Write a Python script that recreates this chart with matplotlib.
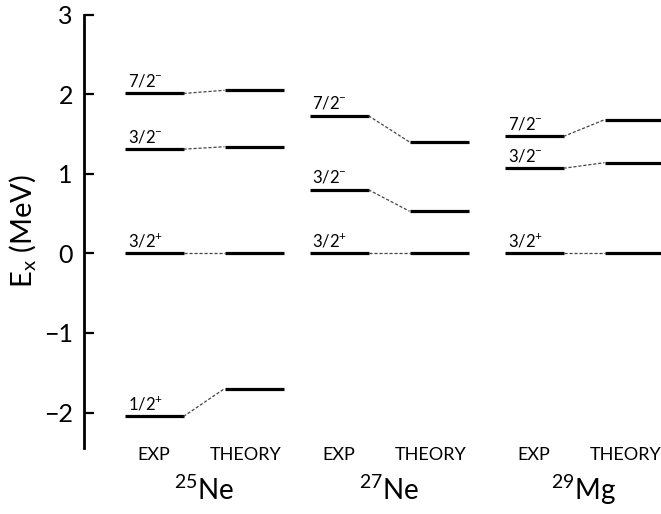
import matplotlib.pyplot as plt

plt.rcParams['font.family'] = ['Lato', 'DejaVu Sans']
plt.rcParams['mathtext.fontset'] = 'custom'
plt.rcParams['mathtext.rm'] = 'Lato'
plt.rcParams['mathtext.it'] = 'Lato:italic'

# level scheme data (MeV)
nuclei = ['25', '27', '29']
elements = ['Ne', 'Ne', 'Mg']
spins = [['7/2', '3/2', '3/2', '1/2'],
         ['7/2', '3/2', '3/2'],
         ['7/2', '3/2', '3/2']]
parities = [['-', '-', '+', '+'],
            ['-', '-', '+'],
            ['-', '-', '+']]
exp_levels = [[2.01, 1.31, 0.0, -2.05],
              [1.73, 0.80, 0.0],
              [1.47, 1.07, 0.0]]
theory_levels = [[2.05, 1.34, 0.0, -1.70],
                 [1.40, 0.53, 0.0],
                 [1.68, 1.14, 0.0]]
col_labels = ['EXP', 'THEORY']

centres = [1.2, 3.05, 5.0]
off = 0.5
half = 0.295

fig = plt.figure(figsize=(6.61, 5.14), dpi=100)
ax = fig.add_axes([84 / 661, 0.1278, 1 - 84 / 661, 0.8436])

for i, c in enumerate(centres):
    xe, xt = c - off, c + off
    for e, t, sp, par in zip(exp_levels[i], theory_levels[i], spins[i], parities[i]):
        ax.plot([xe - half, xe + half], [e, e], color='black', lw=2.3, solid_capstyle='butt')
        ax.plot([xt - half, xt + half], [t, t], color='black', lw=2.3, solid_capstyle='butt')
        ax.plot([xe + half, xt - half], [e, t], color='#444444', lw=0.9, ls=(0, (2.5, 1.5)))
        ax.text(xe - half + 0.03, e + 0.05, r'$\mathrm{%s}^{%s}$' % (sp, par),
                fontsize=12, ha='left', va='bottom')
    # column labels under the axis
    ax.text(xe, -0.027, col_labels[0], transform=ax.get_xaxis_transform(),
            fontsize=13, ha='center', va='baseline')
    ax.text(xt + half - 0.02, -0.027, col_labels[1], transform=ax.get_xaxis_transform(),
            fontsize=13, ha='right', va='baseline')

ax.set_xlim(0, 5.77)
ax.set_ylim(-2.45, 3)
ax.set_yticks([-2, -1, 0, 1, 2, 3])
ax.set_yticklabels(['\u22122', '\u22121', '0', '1', '2', '3'])
ax.set_xticks([])
ax.tick_params(axis='y', direction='in', length=7, width=1.6, labelsize=18, pad=8)

for s in ['top', 'right', 'bottom']:
    ax.spines[s].set_visible(False)
ax.spines['left'].set_linewidth(2)

for c, n, el in zip(centres, nuclei, elements):
    ax.text(c, -0.119, r'$^{%s}$%s' % (n, el), transform=ax.get_xaxis_transform(),
            fontsize=20, ha='center', va='baseline')

ax.set_ylabel(r'E$_\mathrm{x}$ (MeV)', fontsize=21, labelpad=4)

fig.savefig('out.png', dpi=100)
